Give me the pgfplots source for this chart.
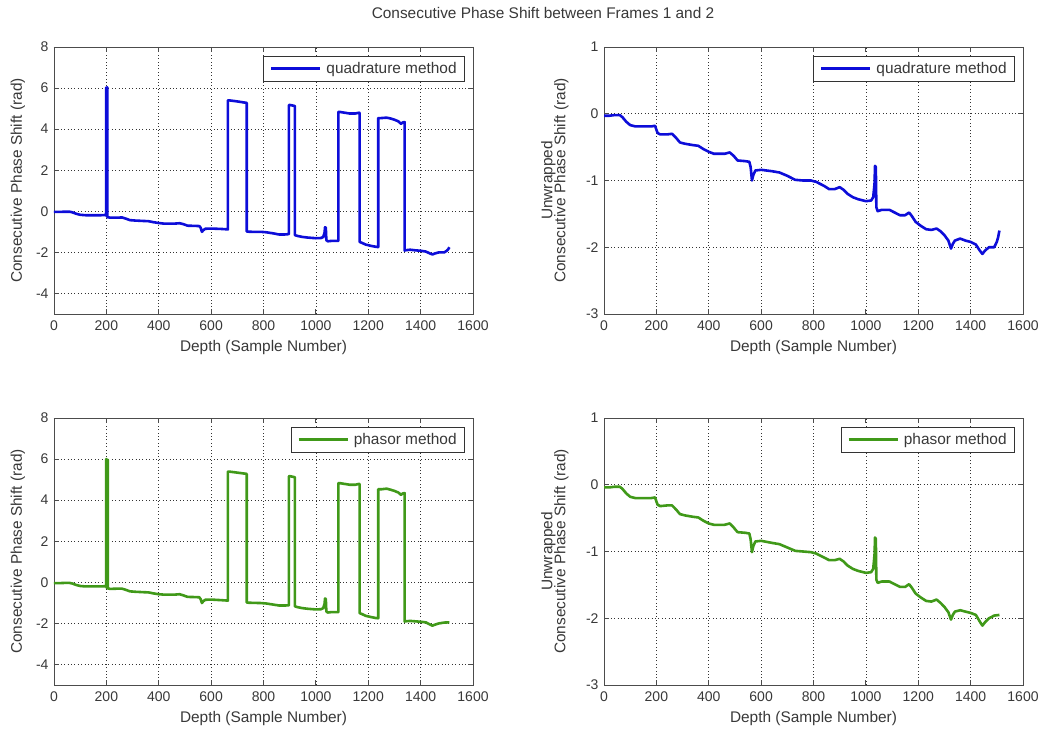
\documentclass[border=0pt]{standalone}
\usepackage{fontspec}
\setmainfont{Liberation Sans}
\usepackage{pgfplots}
\usepackage{pgfplotstable}
\pgfplotsset{compat=1.18}

\definecolor{qblue}{rgb}{0.05,0.05,0.85}
\definecolor{pgreen}{rgb}{0.25,0.6,0.1}
\definecolor{txt}{gray}{0.22}

% unwrapped phase shift, quadrature method
\pgfplotstableread{
x y
0 -0.03
20 -0.03
40 -0.02
60 -0.02
70 -0.05
85 -0.12
100 -0.17
120 -0.19
150 -0.19
180 -0.19
195 -0.18
200 -0.24
205 -0.29
215 -0.31
240 -0.31
260 -0.30
275 -0.36
290 -0.43
310 -0.45
340 -0.47
360 -0.48
380 -0.53
400 -0.57
420 -0.60
460 -0.60
480 -0.58
495 -0.63
510 -0.70
540 -0.71
555 -0.72
560 -0.80
565 -1.00
570 -0.92
578 -0.85
600 -0.84
640 -0.86
670 -0.88
700 -0.93
730 -0.99
760 -1.00
790 -1.00
810 -1.02
840 -1.08
860 -1.13
880 -1.13
900 -1.10
915 -1.14
930 -1.20
950 -1.25
970 -1.28
1000 -1.31
1020 -1.30
1028 -1.25
1033 -1.05
1035 -0.78
1038 -0.80
1040 -1.40
1045 -1.46
1060 -1.44
1090 -1.44
1110 -1.48
1130 -1.52
1150 -1.52
1165 -1.48
1175 -1.53
1190 -1.62
1210 -1.68
1230 -1.73
1250 -1.74
1270 -1.72
1285 -1.76
1300 -1.82
1315 -1.90
1325 -2.02
1332 -1.95
1340 -1.90
1360 -1.87
1380 -1.90
1400 -1.92
1420 -1.96
1435 -2.05
1445 -2.10
1455 -2.05
1470 -2.00
1490 -2.00
1500 -1.92
1505 -1.85
1510 -1.75
}\quadunwrap

% wrapped phase shift, quadrature method
\pgfplotstableread{
x y
0 -0.03
20 -0.03
40 -0.02
60 -0.02
70 -0.05
85 -0.12
100 -0.17
120 -0.19
150 -0.19
180 -0.19
195 -0.18
199 -0.20
199 6.02
201 6.02
201 -0.24
202 -0.24
202 6.03
204 6.03
204 -0.28
205 -0.29
215 -0.31
240 -0.31
260 -0.30
275 -0.36
290 -0.43
310 -0.45
340 -0.47
360 -0.48
380 -0.53
400 -0.57
420 -0.60
460 -0.60
480 -0.58
495 -0.63
510 -0.70
540 -0.71
555 -0.72
560 -0.80
565 -1.00
570 -0.92
578 -0.85
600 -0.84
640 -0.86
664 -0.88
664 5.40
670 5.40
700 5.35
730 5.29
736 5.28
736 -0.99
760 -1.00
790 -1.00
810 -1.02
840 -1.08
860 -1.13
880 -1.13
897 -1.11
897 5.17
900 5.18
915 5.14
920 5.12
920 -1.16
930 -1.20
950 -1.25
970 -1.28
1000 -1.31
1020 -1.30
1028 -1.25
1033 -1.05
1035 -0.78
1038 -0.80
1040 -1.40
1045 -1.46
1060 -1.44
1086 -1.44
1086 4.84
1090 4.84
1110 4.80
1130 4.76
1150 4.76
1165 4.80
1167 4.79
1167 -1.49
1175 -1.53
1190 -1.62
1210 -1.68
1230 -1.73
1238 -1.74
1238 4.54
1250 4.54
1270 4.56
1285 4.52
1300 4.46
1315 4.38
1325 4.26
1332 4.33
1339 4.34
1339 -1.92
1340 -1.90
1360 -1.87
1380 -1.90
1400 -1.92
1420 -1.96
1435 -2.05
1445 -2.10
1455 -2.05
1470 -2.00
1490 -2.00
1500 -1.92
1505 -1.85
1510 -1.75
}\quadwrap

% unwrapped phase shift, phasor method
\pgfplotstableread{
x y
0 -0.04
20 -0.04
40 -0.03
60 -0.03
70 -0.06
85 -0.13
100 -0.18
120 -0.20
150 -0.20
180 -0.20
195 -0.19
200 -0.25
205 -0.30
215 -0.32
240 -0.31
260 -0.31
275 -0.37
290 -0.44
310 -0.46
340 -0.48
360 -0.49
380 -0.54
400 -0.58
420 -0.60
460 -0.60
480 -0.58
495 -0.64
510 -0.71
540 -0.72
555 -0.73
560 -0.82
565 -1.01
570 -0.92
578 -0.85
600 -0.84
640 -0.87
670 -0.89
700 -0.94
730 -0.99
760 -1.00
790 -1.01
810 -1.03
840 -1.09
860 -1.13
880 -1.13
900 -1.11
915 -1.15
930 -1.21
950 -1.26
970 -1.29
1000 -1.32
1020 -1.31
1028 -1.26
1033 -1.05
1035 -0.79
1038 -0.81
1040 -1.42
1045 -1.47
1060 -1.45
1090 -1.45
1110 -1.49
1130 -1.53
1150 -1.53
1165 -1.49
1175 -1.54
1190 -1.63
1210 -1.69
1230 -1.74
1250 -1.75
1270 -1.72
1285 -1.77
1300 -1.83
1315 -1.91
1325 -2.02
1332 -1.95
1340 -1.90
1360 -1.88
1380 -1.90
1400 -1.92
1420 -1.95
1435 -2.05
1445 -2.11
1455 -2.06
1470 -2.00
1490 -1.96
1510 -1.95
}\phasunwrap

% wrapped phase shift, phasor method
\pgfplotstableread{
x y
0 -0.04
20 -0.04
40 -0.03
60 -0.03
70 -0.06
85 -0.13
100 -0.18
120 -0.20
150 -0.20
180 -0.20
195 -0.19
199 -0.21
199 6.00
200 6.00
200 -0.25
202 -0.26
202 5.98
203 5.98
203 -0.27
205 -0.28
205 5.96
206 5.96
206 -0.30
215 -0.32
240 -0.31
260 -0.31
275 -0.37
290 -0.44
310 -0.46
340 -0.48
360 -0.49
380 -0.54
400 -0.58
420 -0.60
460 -0.60
480 -0.58
495 -0.64
510 -0.71
540 -0.72
555 -0.73
560 -0.82
565 -1.01
570 -0.92
578 -0.85
600 -0.84
640 -0.87
664 -0.89
664 5.39
670 5.39
700 5.34
730 5.29
736 5.28
736 -0.99
760 -1.00
790 -1.01
810 -1.03
840 -1.09
860 -1.13
880 -1.13
897 -1.12
897 5.16
900 5.17
915 5.13
920 5.11
920 -1.17
930 -1.21
950 -1.26
970 -1.29
1000 -1.32
1020 -1.31
1028 -1.26
1033 -1.05
1035 -0.79
1038 -0.81
1040 -1.42
1045 -1.47
1060 -1.45
1086 -1.45
1086 4.83
1090 4.83
1110 4.79
1130 4.75
1150 4.75
1165 4.79
1167 4.78
1167 -1.50
1175 -1.54
1190 -1.63
1210 -1.69
1230 -1.74
1238 -1.75
1238 4.53
1250 4.53
1270 4.56
1285 4.51
1300 4.45
1315 4.37
1325 4.26
1332 4.33
1339 4.34
1339 -1.92
1340 -1.90
1360 -1.88
1380 -1.90
1400 -1.92
1420 -1.95
1435 -2.05
1445 -2.11
1455 -2.06
1470 -2.00
1490 -1.96
1510 -1.95
}\phaswrap

\newcommand{\lblfont}{\fontsize{15.4}{16}\selectfont}
\newcommand{\tckfont}{\fontsize{14}{16}\selectfont}

\pgfplotsset{
  panel/.style={
    scale only axis, width=419pt, height=267pt,
    xmin=0, xmax=1600, xtick={0,200,...,1600},
    grid=major,
    major grid style={black!80, line width=0.6pt, dash pattern=on 0.8pt off 2.6pt},
    tick align=inside, major tick length=5pt,
    tick pos=both, ticklabel pos=left,
    axis line style={black!70, line width=0.8pt},
    tick style={black!70, line width=0.8pt},
    ticklabel style={font=\tckfont, text=txt},
    /pgf/number format/assume math mode=true,
    /pgf/number format/1000 sep={},
    xticklabel style={yshift=-3pt},
    yticklabel style={xshift=-2pt},
    xlabel={Depth (Sample Number)},
    every axis x label/.style={at={(axis description cs:0.5,0)}, anchor=center,
      yshift=-34pt, font=\lblfont, text=txt},
    legend style={at={(1,1)}, anchor=north east, xshift=-8pt, yshift=-9pt,
      draw=black!80, line width=0.8pt, font=\lblfont, text=txt,
      inner xsep=6pt, inner ysep=4pt, legend cell align=left,
      /tikz/every odd column/.append style={column sep=3pt}},
    legend image code/.code={\draw[#1] (0pt,0pt) -- (49pt,0pt);},
  },
  wrapped/.style={panel, ymin=-5, ymax=8, ytick={-4,-2,...,8},
    ylabel={Consecutive Phase Shift (rad)},
    every axis y label/.style={at={(axis description cs:0,0.5)}, xshift=-36pt,
      rotate=90, anchor=center, font=\lblfont, text=txt, align=center}},
  unwrapped/.style={panel, ymin=-3, ymax=1, ytick={-3,-2,...,1},
    ylabel={Unwrapped\\[-3pt]Consecutive Phase Shift (rad)},
    every axis y label/.style={at={(axis description cs:0,0.5)}, xshift=-49pt,
      rotate=90, anchor=center, font=\lblfont, text=txt, align=center}},
  quad/.style={qblue, line width=2.6pt, line join=round},
  phas/.style={pgreen, line width=2.6pt, line join=round},
}

\begin{document}
\begin{tikzpicture}
\useasboundingbox (0,0) rectangle (1041pt,732pt);
\node[font=\lblfont, text=txt] at (543pt,719pt)
  {Consecutive Phase Shift between Frames 1 and 2};

\begin{axis}[wrapped, at={(54pt,418pt)}, anchor=south west]
  \addplot[quad] table {\quadwrap};
  \addlegendentry{quadrature method}
\end{axis}

\begin{axis}[unwrapped, at={(604pt,418pt)}, anchor=south west]
  \addplot[quad] table {\quadunwrap};
  \addlegendentry{quadrature method}
\end{axis}

\begin{axis}[wrapped, at={(54pt,47pt)}, anchor=south west]
  \addplot[phas] table {\phaswrap};
  \addlegendentry{phasor method}
\end{axis}

\begin{axis}[unwrapped, at={(604pt,47pt)}, anchor=south west]
  \addplot[phas] table {\phasunwrap};
  \addlegendentry{phasor method}
\end{axis}
\end{tikzpicture}
\end{document}
